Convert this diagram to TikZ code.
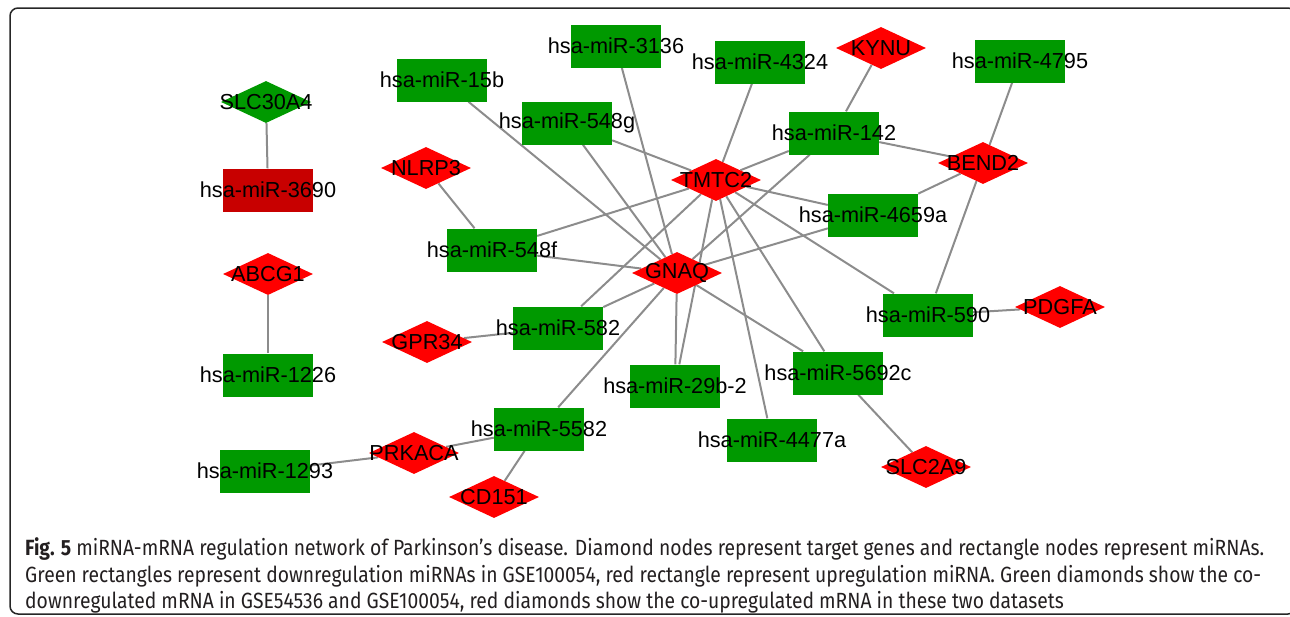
\documentclass[tikz,border=0pt]{standalone}
\usepackage{fontspec}
\setmainfont{Liberation Sans}
\newfontfamily\capfont[FakeStretch=0.877]{Fira Sans}
\definecolor{MIRcolor}{HTML}{009900}
\definecolor{UPcolor}{HTML}{C80000}
\definecolor{GENEcolor}{HTML}{FF0000}
\definecolor{EDGEcolor}{HTML}{8C8C8C}
\definecolor{CAPcolor}{HTML}{231F20}
\usetikzlibrary{shapes.geometric,backgrounds}

\begin{document}
\begin{tikzpicture}[x=1pt, y=-1pt,
    lbl/.style={font=\fontsize{21.7}{24}\selectfont, inner sep=0pt},
    mirna/.style={rectangle, fill=MIRcolor, minimum width=90, minimum height=43,
        inner sep=0pt, label={[lbl]center:#1}},
    upmirna/.style={mirna=#1, fill=UPcolor},
    gene/.style={diamond, fill=GENEcolor, minimum width=90, minimum height=42,
        inner sep=0pt, label={[lbl]center:#1}},
    downgene/.style={gene=#1, fill=MIRcolor},
    edge/.style={draw=EDGEcolor, line width=2},
    caption/.style={anchor=base west, inner sep=0pt, text=CAPcolor,
        font=\capfont\fontsize{22}{24}\selectfont}]
    \useasboundingbox (0, 0) rectangle (1290, 616);
    \draw [rounded corners=8, line width=1.5, black!85] (10, 8) rectangle (1296, 614);

    % small pairs
    \node [downgene=SLC30A4] (slc30a4) at (266, 102) {};
    \node [upmirna=hsa-miR-3690] (m3690) at (268, 190) {};
    \node [gene=ABCG1] (abcg1) at (268, 274) {};
    \node [mirna=hsa-miR-1226] (m1226) at (268, 375) {};
    \node [mirna=hsa-miR-1293] (m1293) at (265, 471) {};
    \node [gene=PRKACA] (prkaca) at (414, 453) {};
    \node [gene=CD151] (cd151) at (494, 497) {};
    \node [mirna=hsa-miR-5582] (m5582) at (539, 429) {};
    \node [gene=GPR34] (gpr34) at (427, 342) {};
    \node [mirna=hsa-miR-582] (m582) at (558, 328) {};
    \node [mirna=hsa-miR-548f] (m548f) at (492, 250) {};
    \node [gene=NLRP3] (nlrp3) at (426, 168) {};

    % hubs
    \node [gene=TMTC2] (tmtc2) at (716, 180) {};
    \node [gene=GNAQ] (gnaq) at (677, 273) {};
    \node [gene=BEND2] (bend2) at (983, 163) {};

    \node [mirna=hsa-miR-15b] (m15b) at (442, 80) {};
    \node [mirna=hsa-miR-548g] (m548g) at (567, 123) {};
    \node [mirna=hsa-miR-3136] (m3136) at (616, 46) {};
    \node [mirna=hsa-miR-4324] (m4324) at (760, 62) {};
    \node [gene=KYNU] (kynu) at (881, 48) {};
    \node [mirna=hsa-miR-4795] (m4795) at (1020, 61) {};
    \node [mirna=hsa-miR-142] (m142) at (834, 133) {};
    \node [mirna=hsa-miR-4659a] (m4659a) at (873, 215) {};
    \node [mirna=hsa-miR-590] (m590) at (928, 315) {};
    \node [gene=PDGFA] (pdgfa) at (1060, 307) {};
    \node [mirna=hsa-miR-5692c] (m5692c) at (838, 373) {};
    \node [mirna=hsa-miR-29b-2] (m29b) at (675, 386) {};
    \node [mirna=hsa-miR-4477a] (m4477a) at (772, 440) {};
    \node [gene=SLC2A9] (slc2a9) at (926, 467) {};

    % edges
    \begin{pgfonlayer}{background}
        \foreach \a/\b in {slc30a4/m3690, abcg1/m1226, nlrp3/m548f, gpr34/m582,
                m1293/prkaca, prkaca/m5582, m5582/cd151, m5582/gnaq,
                m582/gnaq, m582/tmtc2, m548f/tmtc2, m548f/gnaq, m15b/gnaq,
                m548g/tmtc2, m548g/gnaq, m3136/gnaq, m4324/tmtc2, kynu/m142,
                m142/tmtc2, m142/gnaq, m142/bend2, m4795/bend2, bend2/m4659a,
                bend2/m590, tmtc2/m4659a, gnaq/m4659a, tmtc2/m590, tmtc2/m5692c,
                gnaq/m5692c, tmtc2/m4477a, tmtc2/m29b, gnaq/m29b, m590/pdgfa,
                m5692c/slc2a9} {%
                \draw [edge] (\a) -- (\b);
            }
    \end{pgfonlayer}

    % caption
    \node [caption] (cap1) at (25, 555) {\textbf{Fig. 5} miRNA-mRNA regulation network of Parkinson’s disease. Diamond nodes represent target genes and rectangle nodes represent miRNAs.};
    \node [caption] (cap2) at (25, 582) {Green rectangles represent downregulation miRNAs in GSE100054, red rectangle represent upregulation miRNA. Green diamonds show the co-};
    \node [caption] (cap3) at (25, 608) {downregulated mRNA in GSE54536 and GSE100054, red diamonds show the co-upregulated mRNA in these two datasets};

\end{tikzpicture}
\end{document}
